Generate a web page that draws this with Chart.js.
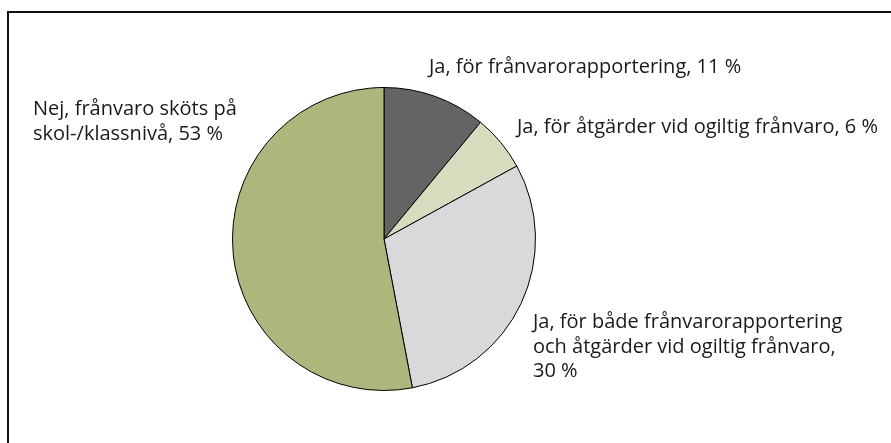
<!DOCTYPE html>
<html>
<head>
<meta charset="utf-8">
<script src="https://cdn.jsdelivr.net/npm/chart.js@4.4.1/dist/chart.umd.min.js"></script>
<style>
  html, body { margin: 0; padding: 0; background: #fff; }
  #wrap { width: 891px; height: 443px; position: relative; }
</style>
</head>
<body>
<div id="wrap"><canvas id="pieChart" width="891" height="443"></canvas></div>
<script>
// Data
const categories = [
    ['Ja, för frånvarorapportering, 11 %'],
    ['Ja, för åtgärder vid ogiltig frånvaro, 6 %'],
    ['Ja, för både frånvarorapportering', 'och åtgärder vid ogiltig frånvaro,', '30 %'],
    ['Nej, frånvaro sköts på', 'skol-/klassnivå, 53 %']
];
const shares = [11, 6, 30, 53];

const sliceColors = ['#646464', '#d8dbbd', '#d9d9dc', '#abb77b'];

// label anchors (left x, first baseline y)
const labelPos = [[429, 73], [517, 133], [533, 328], [33, 115]];

const frame = {
    id: 'frame',
    beforeDraw(chart) {
        const c = chart.ctx;
        c.save();
        c.strokeStyle = '#111';
        c.lineWidth = 2;
        c.beginPath();
        c.moveTo(8, 443);
        c.lineTo(8, 12);
        c.lineTo(891, 12);
        c.stroke();
        c.restore();
    }
};

const sliceLabels = {
    id: 'sliceLabels',
    afterDraw(chart) {
        const c = chart.ctx;
        c.save();
        c.fillStyle = '#1a1a1a';
        c.font = '20px "Open Sans", "Liberation Sans", sans-serif';
        c.textAlign = 'left';
        c.textBaseline = 'alphabetic';
        chart.data.labels.forEach((lines, i) => {
            const [x, y] = labelPos[i];
            lines.forEach((t, j) => c.fillText(t, x, y + j * 24.5));
        });
        c.restore();
    }
};

var ctx = document.getElementById('pieChart').getContext('2d');
var pieChart = new Chart(ctx, {
    type: 'pie',
    data: {
        labels: categories,
        datasets: [{
            data: shares,
            backgroundColor: sliceColors,
            borderColor: '#000',
            borderWidth: 1
        }]
    },
    options: {
        responsive: false,
        animation: false,
        layout: { padding: { left: 232, right: 355, top: 87, bottom: 52 } },
        plugins: {
            legend: { display: false },
            tooltip: { enabled: false }
        }
    },
    plugins: [frame, sliceLabels]
});
</script>
</body>
</html>
